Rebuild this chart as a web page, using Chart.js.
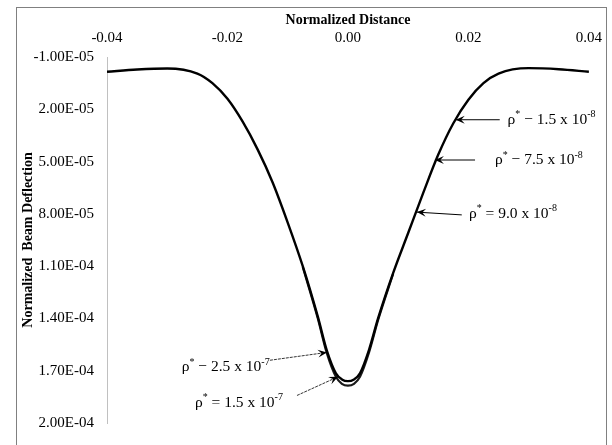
<!DOCTYPE html>
<html>
<head>
<meta charset="utf-8">
<script src="https://cdn.jsdelivr.net/npm/chart.js@4.4.1/dist/chart.umd.min.js"></script>
<style>
    html, body { margin: 0; padding: 0; background: #fff; }
    canvas { display: block; }
</style>
</head>
<body>
<canvas id="deflection-chart" width="612" height="445"></canvas>
<script>
// main beam deflection profile
const distance = [-0.04, -0.035, -0.03, -0.025, -0.0225, -0.02, -0.0175, -0.015, -0.0125, -0.01,
    -0.0075, -0.005, -0.0035, -0.002, -0.001, 0, 0.001, 0.002, 0.0035, 0.005,
    0.0075, 0.01, 0.0125, 0.015, 0.0175, 0.02, 0.0225, 0.025, 0.03, 0.035, 0.04];
const deflection = [-1.5e-6, -2.8e-6, -3.4e-6, -0.5e-6, 5.0e-6, 1.4e-5, 2.7e-5, 4.3e-5, 6.2e-5, 8.5e-5,
    1.10e-4, 1.39e-4, 1.585e-4, 1.715e-4, 1.75e-4, 1.76e-4, 1.75e-4, 1.715e-4, 1.58e-4, 1.40e-4,
    1.14e-4, 9.1e-5, 6.8e-5, 4.6e-5, 2.8e-5, 1.45e-5, 5.0e-6, -0.5e-6, -3.6e-6, -3.0e-6, -1.5e-6];

// the other rho* curves only split apart near the bottom
const bottomDistance = [-0.0075, -0.005, -0.0035, -0.002, -0.001, 0, 0.001, 0.002, 0.0035, 0.005, 0.0075];
const bottomDeflection = [1.105e-4, 1.40e-4, 1.60e-4, 1.735e-4, 1.775e-4, 1.785e-4, 1.775e-4, 1.735e-4, 1.595e-4, 1.41e-4, 1.145e-4];

const xTicks = [-0.04, -0.02, 0, 0.02, 0.04];
const yTicks = [-1e-5, 2e-5, 5e-5, 8e-5, 1.1e-4, 1.4e-4, 1.7e-4, 2e-4];

// arrow notes, in data units
const noteSign = ['\u2212', '\u2212', '=', '\u2212', '='];
const noteValue = ['1.5 x 10', '7.5 x 10', '9.0 x 10', '2.5 x 10', '1.5 x 10'];
const noteExp = ['-8', '-8', '-8', '-7', '-7'];
const noteTipX = [0.0179, 0.01444, 0.01145, -0.00349, -0.00166];
const noteTipY = [2.6e-5, 4.91e-5, 7.9e-5, 1.595e-4, 1.735e-4];
const noteTailX = [0.0252, 0.0211, 0.0189, -0.01295, -0.00846];
const noteTailY = [2.6e-5, 4.91e-5, 8.06e-5, 1.64e-4, 1.842e-4];
const noteTextX = [0.0265, 0.0244, 0.0201, -0.0130, -0.0108];
const noteTextY = [2.6e-5, 4.91e-5, 8.0e-5, 1.679e-4, 1.882e-4];
const noteAlign = ['left', 'left', 'left', 'right', 'right'];

const serif = '"Liberation Serif", "Times New Roman", serif';

function sciLabel(v) {
    const parts = v.toExponential(2).split('e');
    const exp = parseInt(parts[1], 10);
    return parts[0] + 'E' + (exp < 0 ? '-' : '+') + String(Math.abs(exp)).padStart(2, '0');
}

function toPoints(xs, ys) {
    return xs.map((x, i) => ({ x: x, y: ys[i] }));
}

const frameBox = {
    id: 'frameBox',
    beforeDraw(chart) {
        const ctx = chart.ctx;
        ctx.save();
        ctx.fillStyle = '#fff';
        ctx.fillRect(0, 0, chart.width, chart.height);
        ctx.strokeStyle = '#808080';
        ctx.lineWidth = 1;
        ctx.strokeRect(16.5, 7.5, 590, 460);
        ctx.restore();
    }
};

function noteParts(i) {
    return [
        { t: '\u03c1', sup: false },
        { t: '*', sup: true },
        { t: ' ' + noteSign[i] + ' ' + noteValue[i], sup: false },
        { t: noteExp[i], sup: true }
    ];
}

const arrowNotes = {
    id: 'arrowNotes',
    afterDatasetsDraw(chart) {
        const ctx = chart.ctx;
        const xs = chart.scales.x;
        const ys = chart.scales.y;
        ctx.save();
        for (let i = 0; i < noteValue.length; i++) {
            const tipX = xs.getPixelForValue(noteTipX[i]);
            const tipY = ys.getPixelForValue(noteTipY[i]);
            const tailX = xs.getPixelForValue(noteTailX[i]);
            const tailY = ys.getPixelForValue(noteTailY[i]);

            ctx.strokeStyle = '#000';
            ctx.lineWidth = i > 2 ? 0.8 : 1;
            ctx.setLineDash(i > 2 ? [3, 1] : []);
            ctx.beginPath();
            ctx.moveTo(tailX, tailY);
            ctx.lineTo(tipX, tipY);
            ctx.stroke();
            ctx.setLineDash([]);

            const ang = Math.atan2(tipY - tailY, tipX - tailX);
            const len = 9, half = 4;
            ctx.fillStyle = '#000';
            ctx.beginPath();
            ctx.moveTo(tipX, tipY);
            ctx.lineTo(tipX - len * Math.cos(ang) + half * Math.sin(ang), tipY - len * Math.sin(ang) - half * Math.cos(ang));
            ctx.lineTo(tipX - len * 0.6 * Math.cos(ang), tipY - len * 0.6 * Math.sin(ang));
            ctx.lineTo(tipX - len * Math.cos(ang) - half * Math.sin(ang), tipY - len * Math.sin(ang) + half * Math.cos(ang));
            ctx.closePath();
            ctx.fill();

            const parts = noteParts(i);
            let total = 0;
            parts.forEach(p => {
                ctx.font = (p.sup ? '10px ' : '15.5px ') + serif;
                p.w = ctx.measureText(p.t).width;
                total += p.w;
            });
            let x = xs.getPixelForValue(noteTextX[i]);
            if (noteAlign[i] === 'right') x -= total;
            const y = ys.getPixelForValue(noteTextY[i]);
            ctx.textAlign = 'left';
            ctx.textBaseline = 'middle';
            parts.forEach(p => {
                ctx.font = (p.sup ? '10px ' : '15.5px ') + serif;
                ctx.fillText(p.t, x, p.sup ? y - 5 : y);
                x += p.w;
            });
        }
        ctx.restore();
    }
};

const ctx = document.getElementById('deflection-chart').getContext('2d');
const deflectionChart = new Chart(ctx, {
    type: 'scatter',
    data: {
        datasets: [{
            label: 'Beam deflection',
            data: toPoints(distance, deflection),
            showLine: true,
            borderColor: '#000',
            borderWidth: 2.4,
            pointRadius: 0,
            cubicInterpolationMode: 'monotone'
        }, {
            label: 'Bottom spread',
            data: toPoints(bottomDistance, bottomDeflection),
            showLine: true,
            borderColor: '#1a1a1a',
            borderWidth: 2.2,
            pointRadius: 0,
            cubicInterpolationMode: 'monotone'
        }]
    },
    options: {
        responsive: false,
        animation: false,
        layout: { padding: { left: 16, top: 7, right: 23, bottom: 15 } },
        plugins: {
            legend: { display: false },
            tooltip: { enabled: false }
        },
        scales: {
            x: {
                type: 'linear',
                position: 'top',
                min: -0.04,
                max: 0.04,
                afterBuildTicks: scale => { scale.ticks = xTicks.map(v => ({ value: v })); },
                afterFit: scale => { scale.height = 50; },
                grid: { display: false, drawTicks: false },
                border: { display: false },
                ticks: {
                    padding: 10,
                    color: '#000',
                    font: { family: serif, size: 15 },
                    callback: value => value.toFixed(2)
                },
                title: {
                    display: true,
                    text: 'Normalized Distance',
                    color: '#000',
                    padding: { top: 5, bottom: 0 },
                    font: { family: serif, size: 14, weight: 'bold' }
                }
            },
            y: {
                type: 'linear',
                reverse: true,
                min: -1e-5,
                max: 2e-4,
                afterBuildTicks: scale => { scale.ticks = yTicks.map(v => ({ value: v })); },
                afterFit: scale => { scale.width = 91; },
                grid: { display: false, drawTicks: false },
                border: { display: true, color: '#c0c0c0', width: 1 },
                ticks: {
                    padding: 13,
                    color: '#000',
                    font: { family: serif, size: 15 },
                    callback: value => sciLabel(value)
                },
                title: {
                    display: true,
                    text: 'Normalized  Beam Deflection',
                    color: '#000',
                    padding: { top: 4, bottom: 0 },
                    font: { family: serif, size: 14, weight: 'bold' }
                }
            }
        }
    },
    plugins: [frameBox, arrowNotes]
});
</script>
</body>
</html>
